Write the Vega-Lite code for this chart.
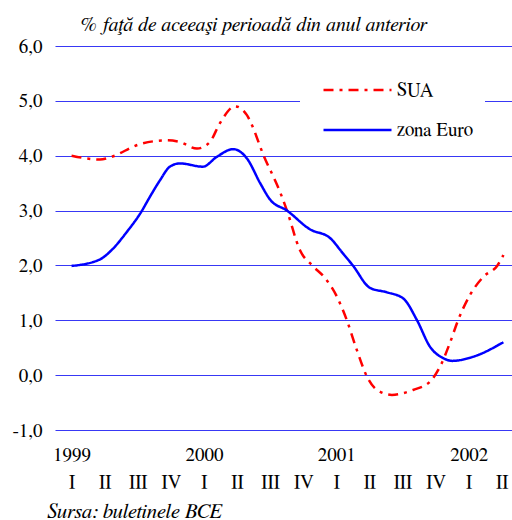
{
  "$schema": "https://vega.github.io/schema/vega-lite/v6.json",
  "width": 457,
  "height": 384,
  "autosize": "none",
  "padding": {"left": 55, "top": 46, "right": 0, "bottom": 90},
  "background": "white",
  "config": {"view": {"stroke": null}, "font": "FreeSerif"},
  "title": {
    "text": "% faţă de aceeaşi perioadă din anul anterior",
    "anchor": "start",
    "frame": "group",
    "dx": 25,
    "dy": 30,
    "offset": 16,
    "baseline": "alphabetic",
    "font": "FreeSerif",
    "fontSize": 20,
    "fontStyle": "italic",
    "fontWeight": "normal",
    "color": "black"
  },
  "data": {
    "values": [
      {"s": "SUA", "t": 0, "v": 4.0},
      {"s": "SUA", "t": 0.86, "v": 3.93},
      {"s": "SUA", "t": 1.16, "v": 3.97},
      {"s": "SUA", "t": 2.06, "v": 4.21},
      {"s": "SUA", "t": 2.88, "v": 4.28},
      {"s": "SUA", "t": 3.27, "v": 4.25},
      {"s": "SUA", "t": 3.79, "v": 4.13},
      {"s": "SUA", "t": 4.18, "v": 4.25},
      {"s": "SUA", "t": 4.48, "v": 4.59},
      {"s": "SUA", "t": 4.94, "v": 4.9},
      {"s": "SUA", "t": 5.3, "v": 4.74},
      {"s": "SUA", "t": 5.45, "v": 4.56},
      {"s": "SUA", "t": 5.78, "v": 4.04},
      {"s": "SUA", "t": 6.3, "v": 3.34},
      {"s": "SUA", "t": 6.51, "v": 3.0},
      {"s": "SUA", "t": 6.9, "v": 2.28},
      {"s": "SUA", "t": 7.29, "v": 1.99},
      {"s": "SUA", "t": 7.66, "v": 1.77},
      {"s": "SUA", "t": 8.02, "v": 1.43},
      {"s": "SUA", "t": 8.32, "v": 1.0},
      {"s": "SUA", "t": 8.62, "v": 0.46},
      {"s": "SUA", "t": 8.93, "v": -0.03},
      {"s": "SUA", "t": 9.23, "v": -0.27},
      {"s": "SUA", "t": 9.68, "v": -0.36},
      {"s": "SUA", "t": 10.32, "v": -0.27},
      {"s": "SUA", "t": 10.83, "v": -0.12},
      {"s": "SUA", "t": 11.13, "v": 0.15},
      {"s": "SUA", "t": 11.43, "v": 0.58},
      {"s": "SUA", "t": 11.68, "v": 1.0},
      {"s": "SUA", "t": 12.04, "v": 1.46},
      {"s": "SUA", "t": 12.44, "v": 1.79},
      {"s": "SUA", "t": 12.87, "v": 2.0},
      {"s": "SUA", "t": 13.05, "v": 2.19},
      {"s": "zona Euro", "t": 0, "v": 1.99},
      {"s": "zona Euro", "t": 0.86, "v": 2.11},
      {"s": "zona Euro", "t": 1.16, "v": 2.25},
      {"s": "zona Euro", "t": 1.67, "v": 2.61},
      {"s": "zona Euro", "t": 2.13, "v": 3.0},
      {"s": "zona Euro", "t": 2.31, "v": 3.19},
      {"s": "zona Euro", "t": 2.67, "v": 3.55},
      {"s": "zona Euro", "t": 2.97, "v": 3.8},
      {"s": "zona Euro", "t": 3.27, "v": 3.86},
      {"s": "zona Euro", "t": 3.97, "v": 3.8},
      {"s": "zona Euro", "t": 4.39, "v": 3.98},
      {"s": "zona Euro", "t": 4.88, "v": 4.12},
      {"s": "zona Euro", "t": 5.3, "v": 3.95},
      {"s": "zona Euro", "t": 5.7, "v": 3.5},
      {"s": "zona Euro", "t": 6.0, "v": 3.2},
      {"s": "zona Euro", "t": 6.51, "v": 3.0},
      {"s": "zona Euro", "t": 7.2, "v": 2.66},
      {"s": "zona Euro", "t": 7.81, "v": 2.5},
      {"s": "zona Euro", "t": 8.2, "v": 2.22},
      {"s": "zona Euro", "t": 8.5, "v": 2.0},
      {"s": "zona Euro", "t": 9.02, "v": 1.59},
      {"s": "zona Euro", "t": 9.53, "v": 1.51},
      {"s": "zona Euro", "t": 10.02, "v": 1.4},
      {"s": "zona Euro", "t": 10.44, "v": 1.0},
      {"s": "zona Euro", "t": 10.83, "v": 0.52},
      {"s": "zona Euro", "t": 11.23, "v": 0.31},
      {"s": "zona Euro", "t": 11.51, "v": 0.26},
      {"s": "zona Euro", "t": 12.11, "v": 0.33},
      {"s": "zona Euro", "t": 13.05, "v": 0.6}
    ]
  },
  "mark": {"type": "line", "interpolate": "monotone", "strokeWidth": 2.5},
  "encoding": {
    "x": {
      "field": "t",
      "type": "quantitative",
      "scale": {"domain": [-0.5, 13.31], "nice": false, "zero": false},
      "axis": {
        "values": [0,1,2,3,4,5,6,7,8,9,10,11,12,13],
        "labelExpr": "[datum.value % 4 == 0 ? '' + (1999 + datum.value / 4) : ' ', ['I','II','III','IV'][datum.value % 4]]",
        "labelFont": "FreeSerif",
        "labelFontSize": 19,
        "labelColor": "black",
        "labelLineHeight": 27,
        "labelPadding": 15,
        "labelFlush": false,
        "labelOverlap": false,
        "labelBound": false,
        "domain": false,
        "ticks": false,
        "grid": false,
        "title": "Sursa: buletinele BCE",
        "titleFont": "FreeSerif",
        "titleFontSize": 21,
        "titleFontStyle": "italic",
        "titleFontWeight": "normal",
        "titleColor": "black",
        "titleX": -8,
        "titleY": 87,
        "titleAlign": "left",
        "titleBaseline": "alphabetic"
      }
    },
    "y": {
      "field": "v",
      "type": "quantitative",
      "scale": {"domain": [-1, 6], "nice": false},
      "axis": {
        "values": [-1,0,1,2,3,4,5,6],
        "labelExpr": "replace(replace(format(datum.value, '.1f'), '.', ','), '\u2212', '-')",
        "labelFont": "FreeSerif",
        "labelFontSize": 19,
        "labelColor": "black",
        "labelPadding": 13,
        "domain": false,
        "ticks": false,
        "grid": true,
        "gridColor": "#3838f5",
        "gridWidth": 1.2,
        "gridOpacity": 1,
        "title": null
      }
    },
    "color": {
      "field": "s",
      "type": "nominal",
      "scale": {"domain": ["SUA", "zona Euro"], "range": ["#ff0000", "#0000ff"]},
      "legend": {
        "title": null,
        "orient": "none",
        "legendX": 245,
        "legendY": 22,
        "fillColor": "white",
        "padding": 12,
        "clipHeight": 20,
        "symbolType": "stroke",
        "symbolSize": 4624,
        "symbolStrokeWidth": 2.5,
        "symbolOffset": 10,
        "labelFont": "FreeSerif",
        "labelFontSize": 19,
        "labelColor": "black",
        "labelOffset": 4,
        "rowPadding": 20
      }
    },
    "strokeDash": {
      "field": "s",
      "type": "nominal",
      "scale": {"domain": ["SUA", "zona Euro"], "range": [[10, 6, 3, 6], [1, 0]]},
      "legend": null
    }
  }
}
